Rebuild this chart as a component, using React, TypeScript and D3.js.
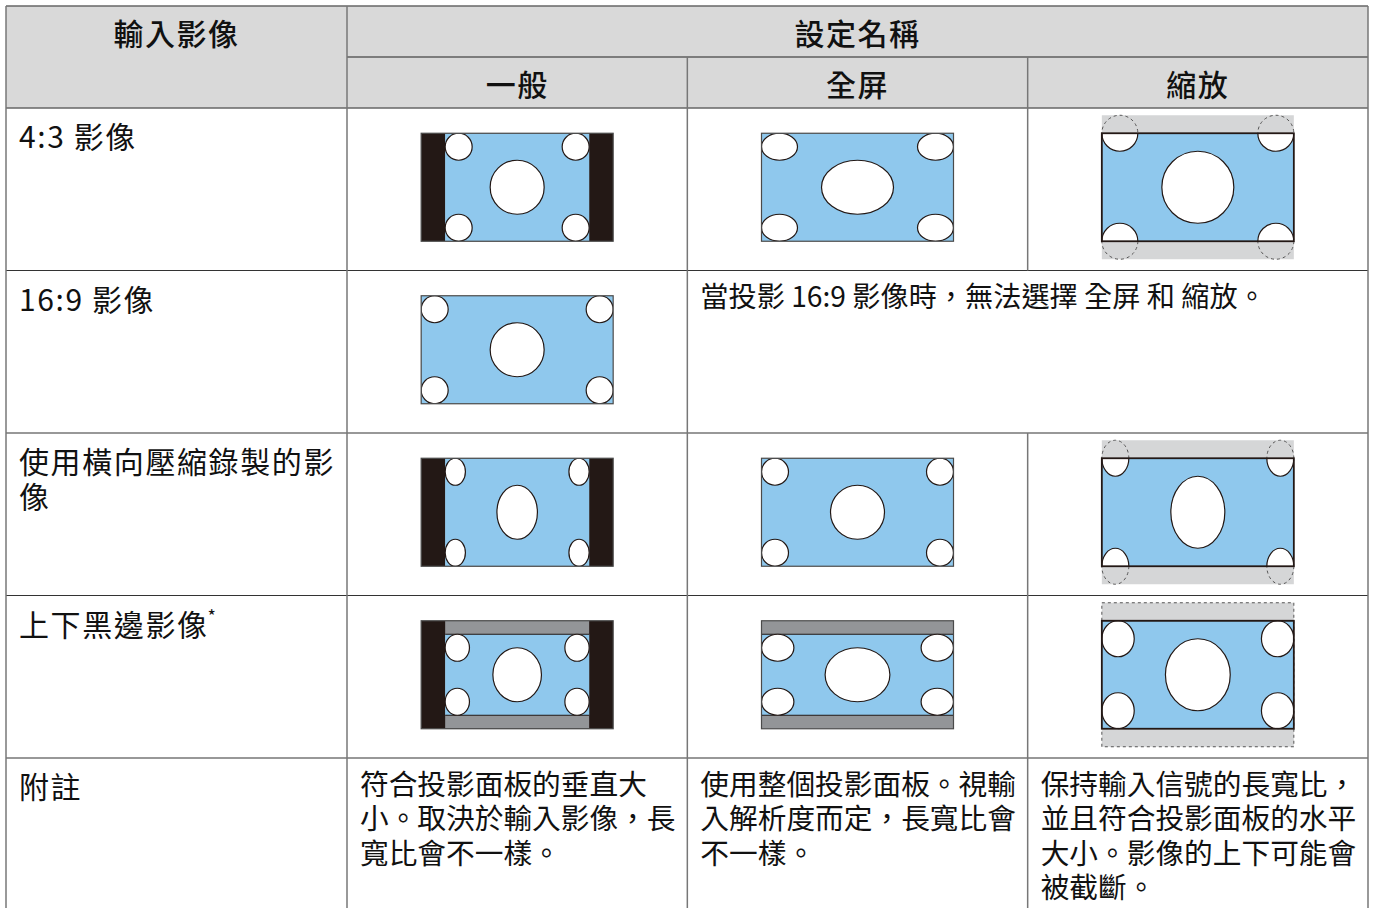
import * as d3 from "d3";

// table text
const inputHeader = "輸入影像";
const groupHeader = "設定名稱";
const modeHeaders = ["一般", "全屏", "縮放"];
const modeKeys = ["normal", "full", "zoom"];

const rowLabels = [["4:3 影像"], ["16:9 影像"], ["使用橫向壓縮錄製的影", "像"], ["上下黑邊影像"]];
const rowMarks = ["", "", "", "*"];

// source picture of each row
const sourceAspect = [4 / 3, 16 / 9, 4 / 3, 4 / 3];
const letterboxShare = [0, 0, 0, 0.125]; // bar height / picture height
const circleSquash = [1, 1, 0.75, 0.9]; // rx / ry as recorded
const cornerShare = [1 / 8, 1 / 8, 1 / 8, 1 / 6]; // corner ry / content height
const centerShare = [1 / 4, 1 / 4, 1 / 4, 1 / 3]; // centre ry / content height
const modeAvailable = [
  [true, true, true],
  [true, false, false],
  [true, true, true],
  [true, true, true],
];
const unavailableText = "當投影 16:9 影像時，無法選擇 全屏 和 縮放。";

const noteLabel = "附註";
const noteLines = [
  ["符合投影面板的垂直大", "小。取決於輸入影像，長", "寬比會不一樣。"],
  ["使用整個投影面板。視輸", "入解析度而定，長寬比會", "不一樣。"],
  ["保持輸入信號的長寬比，", "並且符合投影面板的水平", "大小。影像的上下可能會", "被截斷。"],
];

const W = 1375;
const H = 908;
const left = 6;
const firstCol = 347;
const right = 1368;
const top = 6;
const subTop = 57;
const headBottom = 108;
const notesTop = 758;
const bottom = 960;

const FONT = "'Noto Sans CJK TC', 'Noto Sans', sans-serif";
const BLUE = "#8fc8ed";
const INK = "#231815";
const BAR = "#939598";
const OVER = "#d5d6d7";
const HEAD_BG = "#d9d9d9";

const screenW = 192;
const screenH = 108;

const x = d3.scaleBand<string>().domain(modeKeys).range([firstCol, right]);
const y = d3
  .scaleBand<number>()
  .domain(d3.range(rowLabels.length))
  .range([headBottom, notesTop]);

function Diagram({ row, mode }: { row: number; mode: number }) {
  const key = modeKeys[mode];
  const cx = (x(key) ?? 0) + x.bandwidth() / 2;
  const cy = (y(row) ?? 0) + y.bandwidth() / 2 - 2;
  const sx = cx - screenW / 2;
  const sy = cy - screenH / 2;
  const aspect = sourceAspect[row];

  let iw = screenW;
  let ih = screenH;
  let stretch = 1;
  if (key === "normal") {
    ih = screenH;
    iw = Math.min(screenW, screenH * aspect);
  } else if (key === "full") {
    stretch = screenW / screenH / aspect;
  } else {
    iw = screenW;
    ih = screenW / aspect;
  }
  const ix = cx - iw / 2;
  const iy = cy - ih / 2;

  const bar = ih * letterboxShare[row];
  const ch = ih - 2 * bar;
  const cy0 = iy + bar;

  const ry = ch * cornerShare[row];
  const rx = ry * circleSquash[row] * stretch;
  const Ry = ch * centerShare[row];
  const Rx = Ry * circleSquash[row] * stretch;

  const ellipses = [
    { x: ix + rx, y: cy0 + ry, rx, ry },
    { x: ix + iw - rx, y: cy0 + ry, rx, ry },
    { x: ix + rx, y: cy0 + ch - ry, rx, ry },
    { x: ix + iw - rx, y: cy0 + ch - ry, rx, ry },
    { x: ix + iw / 2, y: cy0 + ch / 2, rx: Rx, ry: Ry },
  ];

  const clipId = `clip-${row}-${mode}`;
  const overflow = ih > screenH + 0.5;

  return (
    <g>
      <defs>
        <clipPath id={clipId}>
          <rect x={sx} y={sy} width={screenW} height={screenH} />
        </clipPath>
      </defs>
      {overflow && (
        <g>
          <rect
            x={ix}
            y={iy}
            width={iw}
            height={ih}
            fill={OVER}
            stroke={bar > 0 ? "#555" : "none"}
            strokeWidth={1}
            strokeDasharray="3,3"
          />
          {ellipses.map((e, i) => (
            <ellipse
              key={i}
              cx={e.x}
              cy={e.y}
              rx={e.rx}
              ry={e.ry}
              fill="none"
              stroke="#555"
              strokeWidth={1}
              strokeDasharray="3,3"
            />
          ))}
        </g>
      )}
      {iw < screenW && <rect x={sx} y={sy} width={screenW} height={screenH} fill={INK} />}
      <g clipPath={`url(#${clipId})`}>
        <rect x={ix} y={iy} width={iw} height={ih} fill={BAR} />
        <rect x={ix} y={cy0} width={iw} height={ch} fill={BLUE} />
        {bar > 0 && (
          <g stroke={INK} strokeWidth={1}>
            <line x1={ix} x2={ix + iw} y1={cy0} y2={cy0} />
            <line x1={ix} x2={ix + iw} y1={cy0 + ch} y2={cy0 + ch} />
          </g>
        )}
        {ellipses.map((e, i) => (
          <ellipse
            key={i}
            cx={e.x}
            cy={e.y}
            rx={e.rx}
            ry={e.ry}
            fill="#fff"
            stroke={INK}
            strokeWidth={1.2}
          />
        ))}
      </g>
      <rect
        x={sx}
        y={sy}
        width={screenW}
        height={screenH}
        fill="none"
        stroke={overflow ? INK : "#4a4a4a"}
        strokeWidth={overflow ? 1.8 : 1.2}
      />
    </g>
  );
}

export default function App() {
  const colEdges = [firstCol, ...modeKeys.map((k) => (x(k) ?? 0) + x.bandwidth())];
  const rowEdges = d3.range(rowLabels.length).map((r) => y(r) ?? 0);
  const labelX = left + 13;

  return (
    <svg
      width={W}
      height={H}
      style={{ position: "absolute", left: 0, top: 0, background: "#fff" }}
      fontFamily={FONT}
    >
      {/* header background */}
      <rect x={left} y={top} width={right - left} height={headBottom - top} fill={HEAD_BG} />

      {/* horizontal rules */}
      <g stroke="#666" strokeWidth={1.5}>
        <line x1={left} x2={right} y1={top} y2={top} />
        <line x1={left} x2={right} y1={headBottom} y2={headBottom} />
      </g>
      <line x1={firstCol} x2={right} y1={subTop} y2={subTop} stroke="#222" strokeWidth={1.2} />
      <g stroke="#333" strokeWidth={1.2}>
        {rowEdges.slice(1).concat([notesTop]).map((ry) => (
          <line key={ry} x1={left} x2={right} y1={ry} y2={ry} />
        ))}
      </g>

      {/* vertical rules */}
      <g stroke="#777" strokeWidth={1.5}>
        <line x1={left} x2={left} y1={top} y2={bottom} />
        <line x1={firstCol} x2={firstCol} y1={top} y2={bottom} />
        <line x1={right} x2={right} y1={top} y2={bottom} />
        {colEdges.slice(1, -1).map((cx, i) => (
          <g key={cx}>
            <line x1={cx} x2={cx} y1={subTop} y2={y(1) ?? 0} />
            <line x1={cx} x2={cx} y1={(y(2) ?? 0)} y2={bottom} />
            {i === 0 && <line x1={cx} x2={cx} y1={y(1) ?? 0} y2={y(2) ?? 0} />}
          </g>
        ))}
      </g>

      {/* headers */}
      <g fontSize={30} fontWeight={500} fill="#111" textAnchor="middle" dominantBaseline="central">
        <text x={(left + firstCol) / 2} y={32} letterSpacing={1.5}>
          {inputHeader}
        </text>
        <text x={(firstCol + right) / 2} y={32} letterSpacing={1.5}>
          {groupHeader}
        </text>
        {modeKeys.map((k, i) => (
          <text key={k} x={(x(k) ?? 0) + x.bandwidth() / 2} y={83} letterSpacing={1.5}>
            {modeHeaders[i]}
          </text>
        ))}
      </g>

      {/* row labels */}
      <g fontSize={30} fill="#111" dominantBaseline="central">
        {rowLabels.map((lines, r) => (
          <text key={r} x={labelX} y={(y(r) ?? 0) + 27} letterSpacing={1.6}>
            {lines.map((ln, j) => (
              <tspan key={j} x={labelX} dy={j === 0 ? 0 : 35}>
                {ln}
                {j === lines.length - 1 && rowMarks[r] && (
                  <tspan fontSize={18} dy={-8} dx={-1}>
                    {rowMarks[r]}
                  </tspan>
                )}
              </tspan>
            ))}
          </text>
        ))}
        <text x={labelX} y={notesTop + 27} letterSpacing={1.6}>
          {noteLabel}
        </text>
      </g>

      {/* diagrams */}
      {rowLabels.map((_, r) =>
        modeKeys.map((k, m) =>
          modeAvailable[r][m] ? <Diagram key={`${r}-${m}`} row={r} mode={m} /> : null
        )
      )}

      {/* unavailable note */}
      <text
        x={(x("full") ?? 0) + 13}
        y={(y(1) ?? 0) + 24}
        fontSize={28.2}
        fill="#111"
        dominantBaseline="central"
      >
        {unavailableText}
      </text>

      {/* notes */}
      <g fontSize={28.7} fill="#111" dominantBaseline="central">
        {noteLines.map((lines, c) => {
          const nx = (x(modeKeys[c]) ?? 0) + 13;
          return (
            <text key={c} x={nx} y={notesTop + 24}>
              {lines.map((ln, j) => (
                <tspan key={j} x={nx} dy={j === 0 ? 0 : 34.3}>
                  {ln}
                </tspan>
              ))}
            </text>
          );
        })}
      </g>
    </svg>
  );
}
